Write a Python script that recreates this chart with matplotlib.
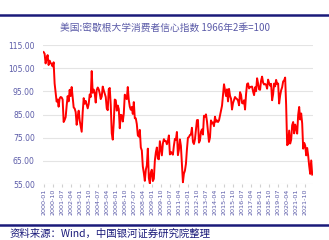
import matplotlib
matplotlib.use("Agg")
import matplotlib.pyplot as plt
import numpy as np
import pandas as pd

plt.rcParams['font.family'] = ['Noto Sans CJK SC', 'DejaVu Sans']

start = "2000-01"
values = [
    112.0, 111.3, 107.1, 109.2, 110.7, 106.4, 108.3, 107.3, 106.8, 105.8, 107.6, 98.4,
    94.7, 90.6, 91.5, 88.4, 92.0, 92.6, 92.4, 91.5, 81.8, 82.7, 83.9, 88.8,
    93.0, 90.7, 95.7, 93.0, 96.9, 92.4, 88.1, 87.6, 86.1, 80.6, 84.2, 86.7,
    82.4, 79.9, 77.6, 86.0, 92.1, 89.7, 90.9, 89.3, 87.7, 89.6, 93.7, 92.6,
    103.8, 94.4, 95.8, 94.2, 90.2, 95.6, 96.7, 95.9, 94.2, 91.7, 92.8, 97.1,
    95.5, 94.1, 92.6, 87.7, 86.9, 96.0, 96.5, 89.1, 76.9, 74.2, 81.6, 91.5,
    91.2, 86.7, 88.9, 87.4, 79.1, 84.9, 84.7, 82.0, 85.4, 93.6, 92.1, 91.7,
    96.9, 91.3, 88.4, 87.1, 88.3, 85.3, 90.4, 83.4, 83.4, 80.9, 76.1, 75.5,
    78.4, 70.8, 69.5, 62.6, 59.8, 56.4, 61.2, 63.0, 70.3, 57.6, 55.3, 60.1,
    61.2, 56.3, 57.3, 65.1, 68.7, 70.8, 66.0, 65.7, 73.5, 70.6, 67.4, 72.5,
    74.4, 73.6, 73.6, 72.2, 73.6, 76.0, 67.8, 68.9, 68.2, 67.7, 71.6, 74.5,
    74.2, 77.5, 67.5, 69.8, 74.3, 71.5, 63.7, 55.8, 59.5, 60.8, 63.7, 69.9,
    75.0, 75.3, 76.2, 76.4, 79.3, 73.2, 72.3, 74.3, 78.3, 82.6, 82.7, 72.9,
    73.8, 77.6, 78.6, 76.4, 84.5, 84.1, 85.1, 82.1, 77.5, 73.2, 75.1, 82.5,
    81.2, 81.6, 80.0, 84.1, 81.9, 82.5, 81.8, 82.5, 84.6, 86.9, 88.8, 93.6,
    98.1, 95.4, 93.0, 95.9, 90.7, 96.1, 93.1, 91.9, 87.2, 90.0, 91.3, 92.6,
    92.0, 91.7, 91.0, 89.0, 94.7, 93.5, 90.0, 89.8, 91.2, 87.2, 93.8, 98.2,
    98.5, 96.3, 96.9, 97.0, 97.1, 95.0, 93.4, 96.8, 95.1, 100.7, 98.5, 95.9,
    95.7, 99.7, 101.4, 98.8, 98.0, 98.2, 97.9, 96.2, 100.1, 98.6, 97.5, 98.3,
    91.2, 93.8, 98.4, 97.2, 100.0, 98.2, 98.4, 89.8, 93.2, 95.5, 96.8, 99.3,
    99.8, 101.0, 89.1, 71.8, 72.3, 78.1, 72.5, 74.1, 80.4, 81.8, 76.9, 80.7,
    79.0, 76.8, 84.9, 88.3, 82.9, 85.5, 81.2, 70.3, 72.8, 71.7, 67.4, 70.6,
    67.2, 62.8, 59.4, 65.2, 59.1,
]
dates = pd.period_range(start, periods=len(values), freq="M")
labels = [d.strftime("%Y-%m") for d in dates]
title = "美国:密歇根大学消费者信心指数 1966年2季=100"
source = "资料来源：Wind，中国银河证券研究院整理"
yticks = [55, 65, 75, 85, 95, 105, 115]

txt = "#5b5ba8"
navy = "#1a1a7a"

fig = plt.figure(figsize=(3.29, 2.40), dpi=100)
ax = fig.add_axes([0.131, 0.233, 0.821, 0.579])
x = np.arange(len(values))
ax.plot(x, values, color="#ff0000", lw=1.4)
ax.set_ylim(55, 115)
ax.set_xlim(-0.5, len(values) - 1 + 1)
ax.set_yticks(yticks)
ax.set_yticklabels([f"{v:.2f}" for v in yticks], fontsize=5.5, color=txt, family="DejaVu Sans")
tick_idx = list(range(0, len(values), 9))
ax.set_xticks(tick_idx)
ax.set_xticklabels([labels[i] for i in tick_idx], rotation=90, fontsize=4.6, color=txt, family="DejaVu Sans")
ax.grid(axis="y", color="#e4e4e4", lw=0.8)
ax.set_axisbelow(True)
for s in ax.spines.values():
    s.set_visible(False)
ax.tick_params(axis="y", length=0, pad=6)
ax.tick_params(axis="x", length=2, color="#d0d0d0", pad=1.5)

fig.text(0.5, 0.885, title, ha="center", va="center", fontsize=7, color=txt)
fig.add_artist(plt.Line2D([0, 1], [1 - 15/240, 1 - 15/240], color=navy, lw=1.8, transform=fig.transFigure))
fig.add_artist(plt.Line2D([0, 1], [1 - 225/240, 1 - 225/240], color=navy, lw=1.8, transform=fig.transFigure))
fig.text(0.03, 1 - 234/240, source, ha="left", va="center", fontsize=7.5, color=navy, style="italic")

fig.savefig("out.png", dpi=100, facecolor="white")
